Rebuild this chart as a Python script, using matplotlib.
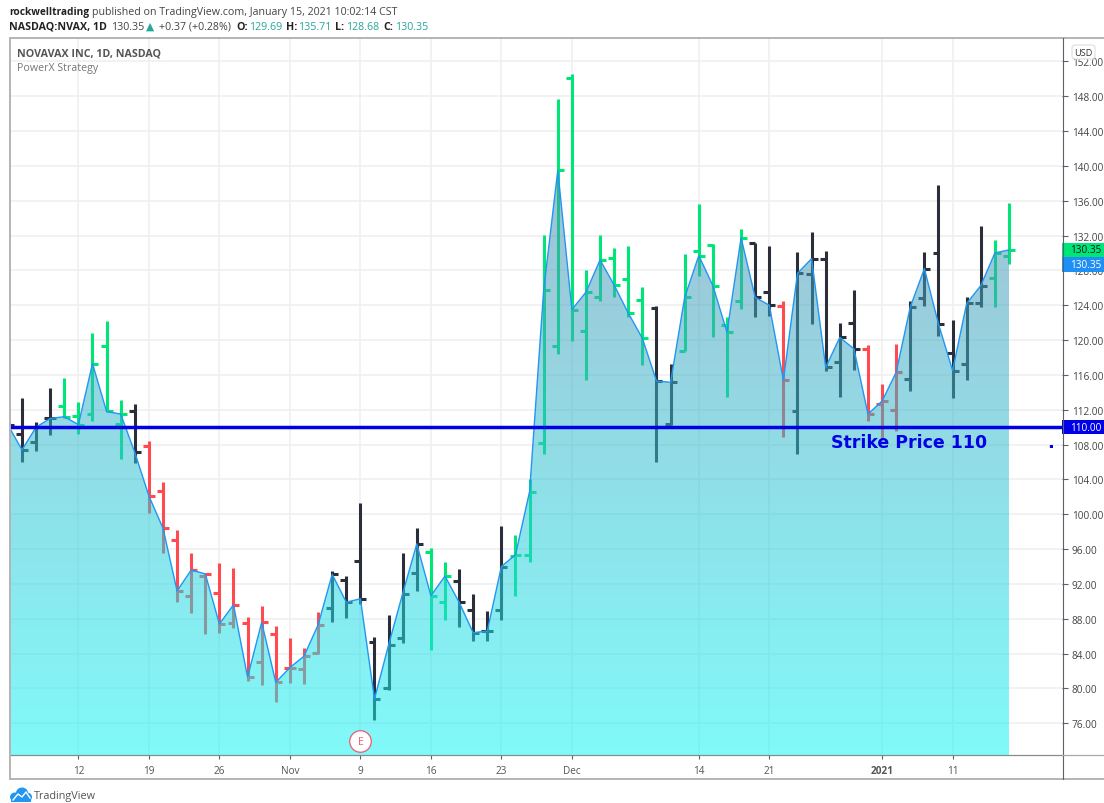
import numpy as np
import matplotlib
matplotlib.use("Agg")
import matplotlib.pyplot as plt
from matplotlib.patches import Rectangle, Ellipse, FancyBboxPatch

plt.rcParams['font.family'] = ['Open Sans', 'DejaVu Sans']

# OHLC, one value per daily bar
opens = [110.8, 109.2, 108.3, 111.0, 112.4, 111.25, 111.5, 119.3, 110.4, 111.8,
         107.8, 102.7, 97.05, 90.6, 92.9, 91.0, 87.5, 87.5, 83.0, 86.3,
         82.3, 82.2, 84.07, 89.2, 92.4, 94.6, 85.3, 80.1, 85.75, 93.2,
         95.7, 89.95, 92.3, 89.0, 86.6, 89.0, 95.2, 95.3, 108.15, 119.3,
         150.05, 121.0, 125.0, 129.4, 127.0, 124.6, 123.65, 110.4, 118.8, 130.2,
         130.9, 121.7, 124.5, 131.1, 125.5, 123.9, 111.9, 127.55, 129.3, 117.5,
         122.0, 119.0, 112.7, 112.0, 115.5, 124.8, 130.0, 118.5, 117.2, 124.2,
         127.1, 129.69]
highs = [111.0, 113.3, 110.6, 114.5, 115.7, 112.9, 120.8, 122.2, 113.1, 112.7,
         108.4, 103.7, 98.2, 95.6, 93.3, 94.4, 93.8, 88.2, 89.5, 87.2,
         85.75, 84.6, 88.8, 93.5, 92.95, 101.3, 85.9, 88.4, 95.5, 98.4,
         96.1, 94.55, 93.7, 90.9, 88.95, 98.6, 97.6, 104.0, 132.1, 147.7,
         150.6, 128.0, 132.1, 130.6, 130.75, 126.05, 123.9, 117.2, 129.9, 135.6,
         131.0, 122.6, 132.8, 131.15, 130.8, 124.5, 130.15, 132.37, 130.2, 122.0,
         125.7, 119.45, 114.9, 119.55, 124.45, 130.1, 137.8, 122.3, 125.0, 133.1,
         131.5, 135.71]
lows = [109.0, 106.0, 107.3, 109.1, 111.1, 109.2, 110.75, 111.7, 106.4, 105.85,
        100.2, 95.6, 89.9, 88.7, 86.3, 86.4, 86.9, 80.9, 80.35, 78.4,
        80.6, 80.5, 84.0, 87.6, 88.1, 89.7, 76.4, 79.85, 85.2, 91.2,
        84.45, 87.9, 87.1, 85.5, 85.4, 87.85, 90.6, 94.5, 106.9, 118.4,
        119.85, 115.4, 124.5, 124.9, 122.6, 117.1, 106.0, 110.2, 118.7, 127.3,
        120.3, 113.45, 123.6, 122.7, 122.8, 108.85, 106.9, 121.85, 116.4, 113.5,
        116.55, 110.7, 108.7, 109.6, 114.2, 123.9, 120.5, 113.3, 115.45, 123.75,
        123.8, 128.68]
closes = [110.25, 107.4, 110.0, 111.0, 111.2, 110.3, 117.3, 111.8, 111.5, 107.1,
          102.1, 98.4, 91.2, 93.6, 93.15, 87.4, 89.6, 81.3, 87.6, 80.7,
          82.4, 83.7, 87.3, 93.1, 89.9, 90.3, 78.8, 85.0, 90.9, 96.6,
          90.65, 92.9, 89.9, 86.4, 86.6, 94.0, 95.35, 102.6, 125.75, 139.5,
          123.5, 125.5, 129.2, 126.3, 123.1, 120.2, 115.3, 115.15, 124.9, 129.7,
          126.25, 120.9, 131.75, 124.9, 124.0, 115.4, 127.66, 129.35, 116.87, 120.3,
          119.0, 111.5, 113.0, 116.3, 123.8, 128.2, 121.85, 116.5, 124.2, 126.25,
          130.0, 130.35]
# k black, g green, r red for each bar
bar_kinds = list("kkkkgggggk" "rrrrrrrrrr" "rrrkkkkkkk" "ggkkkkgggg"
                 "ggggggkkgg" "gggkkrkkkk" "krrrkkkkkk" "gg")

y_ticks = list(range(76, 156, 4))
x_tick_pos = [5, 10, 15, 20, 25, 30, 35, 40, 49, 54, 62, 67]
x_tick_labels = ['12', '19', '26', 'Nov', '9', '16', '23', 'Dec', '14', '21', '2021', '11']
strike = 110.0
last_price = 130.35

kind_colors = {'k': '#2a2e39', 'g': '#00e676', 'r': '#ff4a50'}
W, H = 1104, 804

fig = plt.figure(figsize=(W / 100, H / 100), dpi=100, facecolor='white')
ax = fig.add_axes([10 / W, (H - 756) / H, 1052 / W, 717 / H])
xs = np.arange(len(closes))

# grid
ax.set_axisbelow(True)
ax.grid(True, color='#efefef', linewidth=1.1)

# bars sit under the translucent area
bar_c = [kind_colors[k] for k in bar_kinds]
ax.vlines(xs, lows, highs, colors=bar_c, linewidth=2.2, zorder=2)
ax.hlines(opens, xs - 0.42, xs, colors=bar_c, linewidth=2.2, zorder=2)
ax.hlines(closes, xs, xs + 0.42, colors=bar_c, linewidth=2.2, zorder=2)

# area with vertical gradient
ymin, ymax = 72.36, 154.68
xmin, xmax = 0.149, 74.76
n = 256
t = np.linspace(0, 1, n)[:, None]
top = np.array([80, 140, 175]) / 255
bot = np.array([20, 245, 245]) / 255
grad = np.zeros((n, 1, 4))
grad[:, 0, :3] = top * (1 - t) + bot * t
grad[:, 0, 3] = 0.54
poly = ax.fill_between(xs, closes, ymin, facecolor='none', edgecolor='none')
im = ax.imshow(grad, extent=[xs[0], xs[-1], ymin, max(closes)], aspect='auto',
               origin='upper', zorder=3, interpolation='bilinear')
im.set_clip_path(poly.get_paths()[0], transform=ax.transData)
ax.plot(xs, closes, color='#2196f3', linewidth=1.0, zorder=4)

# strike line and its text
ax.axhline(strike, color='#0000e6', linewidth=2.5, zorder=5)
ax.text(58.4, 108.35, 'Strike Price 110', color='#0000e6', fontsize=12.5, weight='bold',
        family='DejaVu Sans', va='center', ha='left', zorder=6)
ax.text(73.96, 107.7, '.', color='#0000e6', fontsize=13, weight='bold', family='DejaVu Sans',
        va='baseline', ha='center', zorder=6)

# earnings mark
ax.plot([25], [73.97], marker='o', markersize=15.5, markerfacecolor='white',
        markeredgecolor='#ee5a70', markeredgewidth=0.9, zorder=6, clip_on=False)
ax.text(25, 73.95, 'E', color='#ee5a70', fontsize=7.5, ha='center', va='center', zorder=7)

ax.set_xlim(xmin, xmax)
ax.set_ylim(ymin, ymax)

ax.yaxis.tick_right()
ax.set_yticks(y_ticks)
ax.set_yticklabels(['%.2f' % v for v in y_ticks])
ax.set_xticks(x_tick_pos)
ax.set_xticklabels(x_tick_labels)
ax.tick_params(axis='y', length=4, width=0.8, color='#5d606b', labelcolor='#444444',
               labelsize=7.2, pad=3)
ax.tick_params(axis='x', length=3, width=0.8, color='#5d606b', labelcolor='#555555',
               labelsize=7.2, pad=4)
for lab in ax.get_xticklabels():
    if lab.get_text() == '2021':
        lab.set_fontweight('bold')

for s in ['top', 'left', 'right']:
    ax.spines[s].set_visible(False)
ax.spines['bottom'].set_color('#8a8a8a')
ax.spines['bottom'].set_linewidth(0.9)

# price boxes on the right scale
tr = ax.get_yaxis_transform()
box_w = 42 / 1052
box_h = 14.5 / 8.71
price_boxes = [(last_price, '#00e676', '#131722', last_price),
               (last_price - box_h, '#1e90f5', 'white', last_price),
               (strike, '#0000e6', 'white', strike)]
for p, c, tc, val in price_boxes:
    ax.add_patch(Rectangle((1, p - box_h / 2), box_w, box_h, transform=tr, facecolor=c,
                           edgecolor='none', clip_on=False, zorder=8))
    ax.text(1 + 8.5 / 1052, p, '%.2f' % val, transform=tr,
            color=tc, fontsize=7.2, va='center', ha='left', zorder=9, clip_on=False)

# page furniture in pixel coordinates
chrome = fig.add_axes([0, 0, 1, 1], zorder=5)
chrome.set_xlim(0, W)
chrome.set_ylim(H, 0)
chrome.axis('off')
chrome.patch.set_alpha(0)
frame = '#b4b4b4'
chrome.plot([10, W], [39, 39], color=frame, lw=1.4)
chrome.plot([10, W], [780, 780], color=frame, lw=1.4)
chrome.plot([10, 10], [39, 780], color=frame, lw=1.4)
chrome.plot([1062.5, 1062.5], [39, 780], color='#5d606b', lw=0.8)
chrome.plot([1062, W], [756, 756], color='#a8a8a8', lw=0.9)
chrome.add_patch(FancyBboxPatch((1072, 46), 23, 14, boxstyle='round,pad=0,rounding_size=3',
                                facecolor='white', edgecolor='#dddddd', lw=0.8))
chrome.text(1083.5, 53, 'USD', fontsize=6.6, color='#333333', ha='center', va='center')

dark = '#222222'
teal = '#26a69a'
header = [(9, 12, 'rockwelltrading', dark, 'bold', 7.3),
          (92, 12, 'published on TradingView.com, January 15, 2021 10:02:14 CST', '#444444', 'normal', 7.7),
          (9, 27, 'NASDAQ:NVAX, 1D', dark, 'bold', 7.7),
          (111, 27, '130.35', '#444444', 'normal', 7.7),
          (146, 27, '\u25b2', teal, 'normal', 7.7),
          (159, 27, '+0.37 (+0.28%)', '#444444', 'normal', 7.7),
          (236, 27, 'O:', dark, 'bold', 7.7),
          (249, 27, '129.69', teal, 'normal', 7.7),
          (286, 27, 'H:', dark, 'bold', 7.7),
          (298, 27, '135.71', teal, 'normal', 7.7),
          (335, 27, 'L:', dark, 'bold', 7.7),
          (346, 27, '128.68', teal, 'normal', 7.7),
          (383, 27, 'C:', dark, 'bold', 7.7),
          (395, 27, '130.35', teal, 'normal', 7.7)]
for x, y, s, c, w, fs in header:
    chrome.text(x, y, s, color=c, weight=w, fontsize=fs, ha='left', va='center')

chrome.text(17, 53.5, 'NOVAVAX INC, 1D, NASDAQ', color='#555555', weight='bold', fontsize=7.7,
            ha='left', va='center')
chrome.text(17, 69, 'PowerX Strategy', color='#777777', fontsize=7.7, ha='left', va='center')

# TradingView logo
for cx, cy, rw, rh in [(15, 798, 10, 9), (22, 794, 12, 11), (27, 798, 10, 9)]:
    chrome.add_patch(Ellipse((cx, cy), rw, rh, facecolor='#2196f3', edgecolor='none', clip_on=False))
chrome.add_patch(Rectangle((11, 797), 20, 5.5, facecolor='#2196f3', edgecolor='none'))
chrome.plot([13, 18, 22, 26, 30], [801, 795, 798, 793, 799], color='white', lw=1.0)
chrome.text(34, 797, 'TradingView', color='#555555', fontsize=7.8, ha='left', va='center')

fig.savefig('out.png', dpi=100)
